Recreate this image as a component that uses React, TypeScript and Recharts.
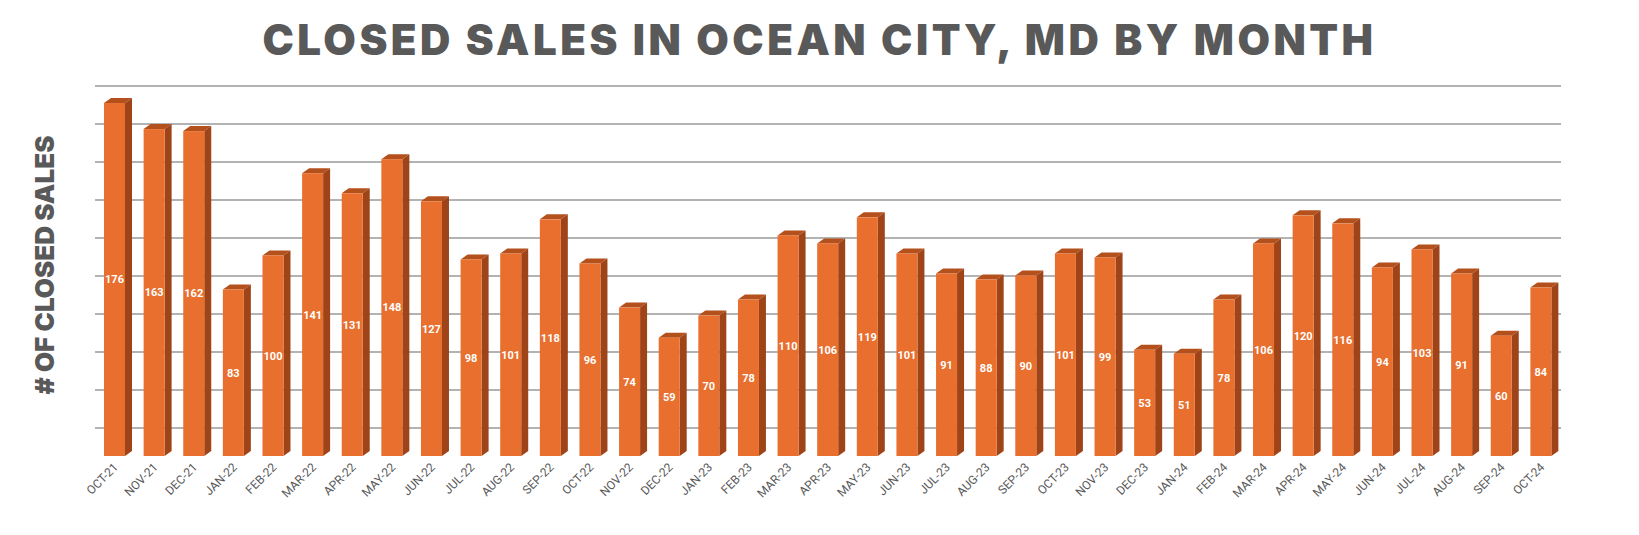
import { BarChart, Bar, XAxis, YAxis, CartesianGrid, LabelList } from 'recharts'

const MONTHS = ['OCT-21','NOV-21','DEC-21','JAN-22','FEB-22','MAR-22','APR-22','MAY-22','JUN-22','JUL-22','AUG-22','SEP-22','OCT-22','NOV-22','DEC-22','JAN-23','FEB-23','MAR-23','APR-23','MAY-23','JUN-23','JUL-23','AUG-23','SEP-23','OCT-23','NOV-23','DEC-23','JAN-24','FEB-24','MAR-24','APR-24','MAY-24','JUN-24','JUL-24','AUG-24','SEP-24','OCT-24']
const SALES = [176,163,162,83,100,141,131,148,127,98,101,118,96,74,59,70,78,110,106,119,101,91,88,90,101,99,53,51,78,106,120,116,94,103,91,60,84]
const GRID_VALUES = [0,20,40,60,80,100,120,140,160,180]

const data = MONTHS.map((m, i) => ({ month: m, sales: SALES[i] }))

const TOP = 95
const PLOT_H = 342
const DEPTH_X = 7
const DEPTH_Y = 5

function Bar3D(props: any) {
  const { x, y, width, height } = props
  if (!height) return null
  return (
    <g>
      <polygon points={`${x},${y} ${x + DEPTH_X},${y - DEPTH_Y} ${x + width + DEPTH_X},${y - DEPTH_Y} ${x + width},${y}`} fill="#B4501C" />
      <polygon points={`${x + width},${y} ${x + width + DEPTH_X},${y - DEPTH_Y} ${x + width + DEPTH_X},${y + height - DEPTH_Y} ${x + width},${y + height}`} fill="#9E4418" />
      <rect x={x} y={y} width={width} height={height} fill="#E86F2E" />
    </g>
  )
}

function MonthTick(props: any) {
  const { x, y, payload } = props
  return (
    <text x={x + 4} y={y + 4} textAnchor="end" transform={`rotate(-45, ${x + 4}, ${y + 4})`} fill="#595959" fontSize={12} fontFamily="Roboto">
      {payload.value}
    </text>
  )
}

export default function App() {
  return (
    <div style={{ position: 'relative', width: 1639, height: 535, margin: -8, background: '#fff', fontFamily: 'Inter' }}>
      <div style={{ position: 'absolute', top: 14, left: 0, width: 1639, textAlign: 'center', fontSize: 42, fontWeight: 900, letterSpacing: 3.5, color: '#595959' }}>
        CLOSED SALES IN OCEAN CITY, MD BY MONTH
      </div>
      <div style={{ position: 'absolute', left: 44, top: 265, transform: 'translate(-50%, -50%) rotate(-90deg)', whiteSpace: 'nowrap', fontSize: 26, fontWeight: 900, color: '#595959' }}>
        # OF CLOSED SALES
      </div>
      <div style={{ position: 'absolute', left: 0, top: 0 }}>
        <BarChart width={1639} height={535} data={data} margin={{ top: TOP, right: 78, left: 95, bottom: 0 }} barSize={21}>
          <CartesianGrid
            vertical={false}
            stroke="#9a9a9a"
            strokeWidth={1.5}
            horizontalCoordinatesGenerator={() => GRID_VALUES.map((v) => TOP + PLOT_H - (v / 180) * PLOT_H - 9)}
          />
          <XAxis dataKey="month" interval={0} tickLine={false} axisLine={false} height={79} tick={<MonthTick />} />
          <YAxis hide domain={[0, 180]} />
          <Bar dataKey="sales" shape={<Bar3D />} isAnimationActive={false}>
            <LabelList dataKey="sales" position="center" fill="#fff" fontSize={11} fontWeight={700} fontFamily="Roboto" />
          </Bar>
        </BarChart>
      </div>
    </div>
  )
}
